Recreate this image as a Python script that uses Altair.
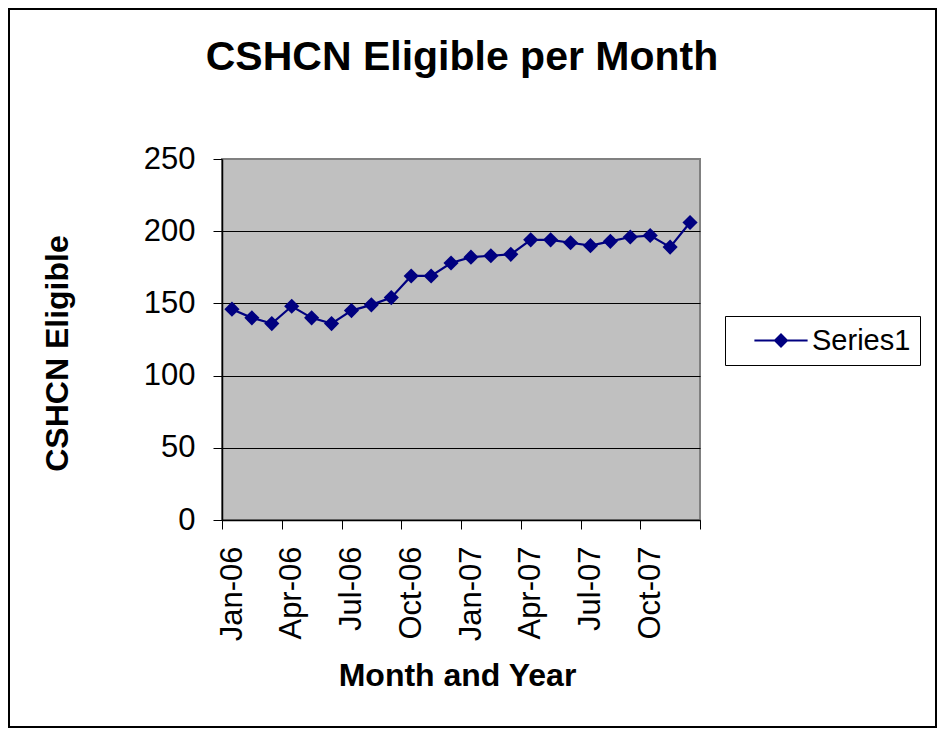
import json
import altair as alt
import pandas as pd

# ---- data ----
months = ["Jan-06", "Feb-06", "Mar-06", "Apr-06", "May-06", "Jun-06",
          "Jul-06", "Aug-06", "Sep-06", "Oct-06", "Nov-06", "Dec-06",
          "Jan-07", "Feb-07", "Mar-07", "Apr-07", "May-07", "Jun-07",
          "Jul-07", "Aug-07", "Sep-07", "Oct-07", "Nov-07", "Dec-07"]
eligible = [146, 140, 136, 148, 140, 136, 145, 149, 154, 169, 169, 178,
            182, 183, 184, 194, 194, 192, 190, 193, 196, 197, 189, 206]
tick_labels = ["Jan-06", "Apr-06", "Jul-06", "Oct-06",
               "Jan-07", "Apr-07", "Jul-07", "Oct-07"]
y_ticks = [0, 50, 100, 150, 200, 250]
series_name = "Series1"
chart_title = "CSHCN Eligible per Month"

FONT = "Liberation Sans"
NAVY = "#000080"
n = len(months)

df = pd.DataFrame({
    "month": months,
    "value": eligible,
    "idx": list(range(n)),
    "series": [series_name] * n,
})

x_tick_values = list(range(0, n + 1, 3))
label_expr = f"datum.value < {n} ? {json.dumps(tick_labels)}[round(datum.value / 3)] : ''"

x_enc = alt.X(
    "pos:Q",
    scale=alt.Scale(domain=[0, n], nice=False, zero=False),
    axis=alt.Axis(
        values=x_tick_values,
        labelExpr=label_expr,
        labelAngle=-90,
        labelFontSize=31,
        labelFont=FONT,
        labelColor="black",
        labelPadding=17,
        labelOffset=10,
        labelOverlap=False,
        labelFlush=False,
        labelBound=False,
        tickSize=9,
        tickColor="black",
        domainColor="black",
        domainWidth=1.5,
        grid=False,
        title="Month and Year",
        titleFont=FONT,
        titleFontSize=32,
        titleFontWeight="bold",
        titleColor="black",
        titleX=235,
        titleY=165,
        titleAlign="center",
        titleBaseline="alphabetic",
    ),
)

y_enc = alt.Y(
    "value:Q",
    scale=alt.Scale(domain=[0, 250], nice=False),
    axis=alt.Axis(
        values=y_ticks,
        labelFontSize=31,
        labelFont=FONT,
        labelColor="black",
        labelPadding=18,
        tickSize=9,
        tickColor="black",
        domainColor="black",
        domainWidth=1.5,
        grid=True,
        gridColor="black",
        gridWidth=1,
        gridOpacity={"condition": {"test": "datum.value >= 250", "value": 0}, "value": 1},
        title="CSHCN Eligible",
        titleFont=FONT,
        titleFontSize=32,
        titleFontWeight="bold",
        titleColor="black",
        titleAngle=-90,
        titleX=-155,
        titleY=194,
        titleAlign="center",
        titleBaseline="alphabetic",
    ),
)

color_enc = alt.Color(
    "series:N",
    scale=alt.Scale(range=[NAVY]),
    legend=alt.Legend(
        title=None,
        orient="none",
        legendX=503,
        legendY=157,
        padding=9.5,
        strokeColor="black",
        fillColor="white",
        symbolType="M-1.9,0L1.9,0M-0.43,0L0,-0.43L0.43,0L0,0.43Z",
        symbolSize=784,
        symbolStrokeWidth=2,
        symbolStrokeColor=NAVY,
        symbolFillColor=NAVY,
        symbolOffset=31.5,
        labelOffset=16,
        labelFontSize=29,
        labelFont=FONT,
        labelColor="black",
    ),
)

line = alt.Chart(df).transform_calculate(
    pos="datum.idx + 0.5"
).mark_line(
    strokeWidth=2.2,
    point=alt.OverlayMarkDef(shape="diamond", size=230, filled=True, opacity=1),
).encode(x=x_enc, y=y_enc, color=color_enc)

one = pd.DataFrame({"title": [chart_title]})

frame = alt.Chart(one).mark_rect(
    filled=False, stroke="black", strokeWidth=2
).encode(
    x=alt.value(-213), x2=alt.value(714), y=alt.value(-150), y2=alt.value(568)
)

title = alt.Chart(one).mark_text(
    font=FONT, fontSize=41, fontWeight="bold", color="black",
    align="center", baseline="alphabetic",
).encode(
    x=alt.value(240), y=alt.value(-89), text="title:N"
)

chart = alt.layer(line, frame, title).properties(
    width=478,
    height=361,
    autosize=alt.AutoSizeParams(type="none"),
    padding={"left": 214, "top": 151, "right": 237, "bottom": 208},
).configure(
    background="white"
).configure_view(
    fill="#C0C0C0", stroke="#808080", strokeWidth=2
)

chart.save("out.html", embed_options={"renderer": "svg", "actions": False})
